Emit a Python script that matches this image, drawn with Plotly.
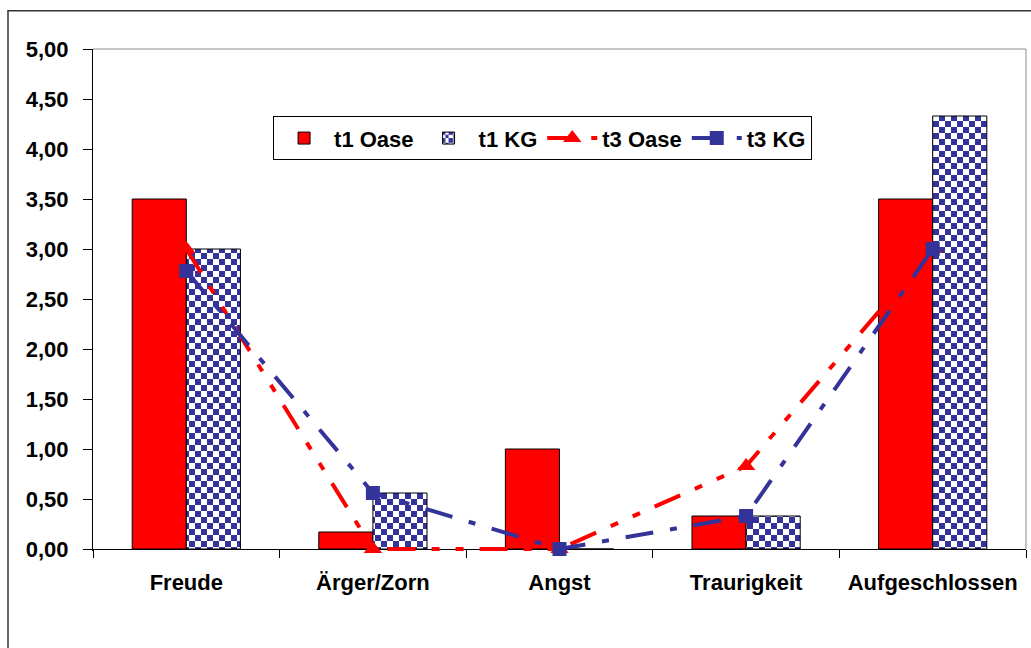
import plotly.graph_objects as go

# Emotion categories and group means
categories = ["Freude", "Ärger/Zorn", "Angst", "Traurigkeit", "Aufgeschlossen"]
t1_oase = [3.5, 0.17, 1.0, 0.33, 3.5]
t1_kg = [3.0, 0.56, 0.0, 0.33, 4.33]
t3_oase = [3.0, 0.0, 0.0, 0.83, 3.0]
t3_kg = [2.78, 0.56, 0.0, 0.33, 3.0]
y_ticks = [0, 0.5, 1.0, 1.5, 2.0, 2.5, 3.0, 3.5, 4.0, 4.5, 5.0]

RED = "#FF0000"
NAVY = "#333399"
FONT = dict(family="Liberation Sans, Arial, sans-serif", size=22, color="black", weight="bold")

# a little room below zero so lines lying on zero are not clipped
Y_MIN, Y_MAX = -0.02, 5.0
ZERO_POS = (0 - Y_MIN) / (Y_MAX - Y_MIN)

# blue/white checkerboard fill
checker = dict(fgcolor=NAVY, bgcolor="white", size=12, fillmode="replace")
try:
    go.bar.marker.Pattern(path="M0,0H6V6H0ZM6,6H12V12H6Z")
    checker["path"] = "M0,0H6V6H0ZM6,6H12V12H6Z"
except ValueError:
    checker["shape"] = "+"
    checker["solidity"] = 0.5

fig = go.Figure()
fig.add_trace(go.Bar(
    x=categories, y=t1_oase, name="t1 Oase",
    marker=dict(color=RED, line=dict(color="black", width=1)),
))
fig.add_trace(go.Bar(
    x=categories, y=t1_kg, name="t1 KG",
    marker=dict(color="white", pattern=checker, line=dict(color="black", width=1)),
))
fig.add_trace(go.Scatter(
    x=categories, y=t3_oase, name="t3 Oase", mode="lines+markers",
    line=dict(color=RED, width=4, dash="28px,16px,8px,16px,8px,16px"),
    marker=dict(symbol="triangle-up", size=16, color=RED),
    cliponaxis=False,
))
fig.add_trace(go.Scatter(
    x=categories, y=t3_kg, name="t3 KG", mode="lines+markers",
    line=dict(color=NAVY, width=4, dash="28px,17px,7px,17px"),
    marker=dict(symbol="square", size=14, color=NAVY),
    cliponaxis=False,
))

fig.update_layout(
    width=1031, height=648,
    margin=dict(l=93, r=5, t=49, b=97),
    paper_bgcolor="white", plot_bgcolor="white",
    font=FONT,
    separators=",.",
    barmode="group", bargap=0.42, bargroupgap=0,
    showlegend=True,
    legend=dict(
        orientation="h", x=0.193, y=0.866, xanchor="left", yanchor="top",
        bgcolor="white", bordercolor="black", borderwidth=1,
        font=FONT, itemwidth=50, traceorder="normal",
    ),
    xaxis=dict(
        type="category", range=[-0.5, 4.5],
        anchor="free", position=ZERO_POS,
        showline=True, linecolor="black", linewidth=1,
        ticks="outside", ticklen=8, tickcolor="black", tickson="boundaries",
        showgrid=False, ticklabelstandoff=14, tickfont=FONT,
        layer="below traces",
    ),
    yaxis=dict(
        range=[Y_MIN, Y_MAX], tickvals=y_ticks, tickformat=".2f",
        showline=True, linecolor="black", linewidth=1,
        ticks="outside", ticklen=9, tickcolor="black",
        showgrid=False, zeroline=False, ticklabelstandoff=10, tickfont=FONT,
        layer="below traces",
    ),
    # inner halves of the crossing tick marks
    xaxis2=dict(
        overlaying="x", anchor="free", position=ZERO_POS, side="bottom",
        range=[-0.5, 4.5],
        tickvals=[-0.5, 0.5, 1.5, 2.5, 3.5, 4.5], ticks="inside", ticklen=8,
        tickcolor="black", showticklabels=False, showgrid=False, zeroline=False,
        showline=False, layer="below traces",
    ),
    yaxis2=dict(
        overlaying="y", anchor="x", side="left", range=[Y_MIN, Y_MAX],
        tickvals=y_ticks, ticks="inside", ticklen=6, tickcolor="black",
        showticklabels=False, showgrid=False, zeroline=False, showline=False,
        layer="below traces",
    ),
    shapes=[
        # plot-area frame (top and right edges)
        dict(type="line", xref="paper", yref="paper", x0=0, x1=1, y0=1, y1=1,
             line=dict(color="#8c8c8c", width=1), layer="below"),
        dict(type="line", xref="paper", yref="y", x0=1, x1=1, y0=0, y1=Y_MAX,
             line=dict(color="#8c8c8c", width=1), layer="below"),
        # outer chart frame
        dict(type="rect", xref="paper", yref="paper", x0=-0.0911, x1=1.1,
             y0=-0.4, y1=1.076, line=dict(color="#333333", width=1.5),
             layer="below"),
    ],
)

fig.write_html("out.html")
